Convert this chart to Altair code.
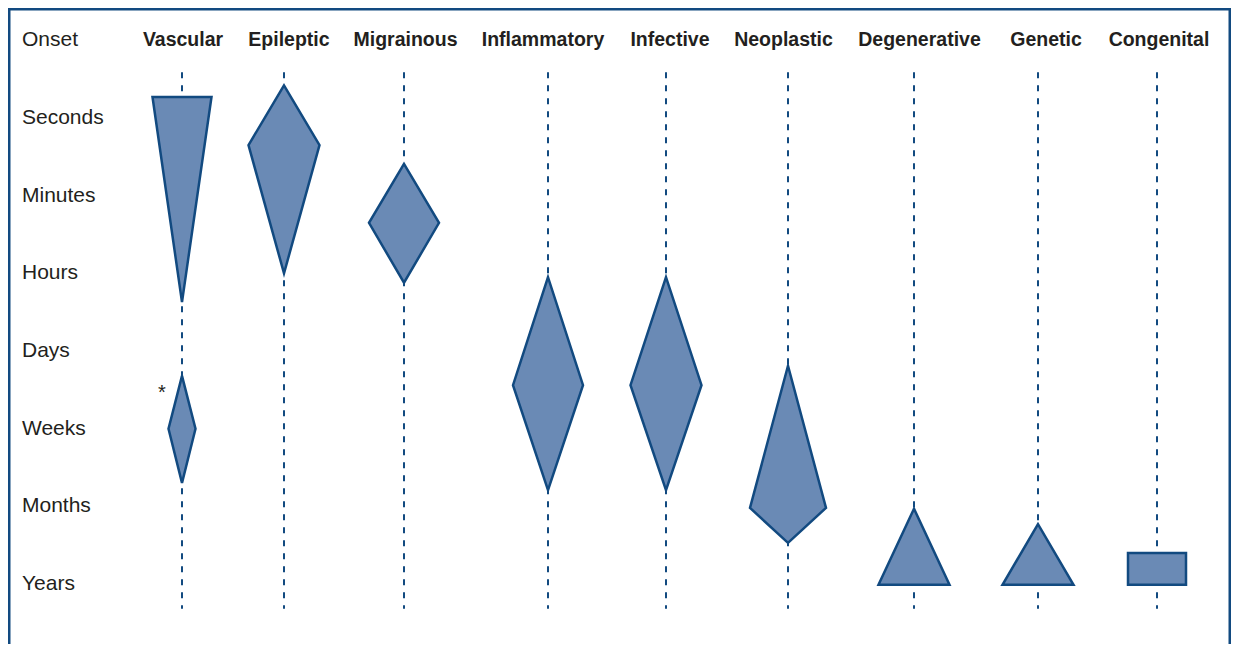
import altair as alt
import pandas as pd

# ---- data ----
categories = ["Vascular", "Epileptic", "Migrainous", "Inflammatory", "Infective",
              "Neoplastic", "Degenerative", "Genetic", "Congenital"]
column_x = [182, 284, 404, 548, 666, 788, 914, 1038, 1157]
onset_levels = ["Seconds", "Minutes", "Hours", "Days", "Weeks", "Months", "Years"]
header_label = "Onset"

# each shape: category, onset levels of its vertices (0 = Seconds ... 6 = Years), half widths
shape_category = ["Vascular", "Vascular", "Epileptic", "Migrainous", "Inflammatory",
                  "Infective", "Neoplastic", "Degenerative", "Genetic", "Congenital"]
shape_levels = [
    [-0.27, 2.37],
    [3.32, 4.00, 4.70],
    [-0.42, 0.35, 2.00],
    [0.59, 1.35, 2.12],
    [2.05, 3.44, 4.79],
    [2.05, 3.44, 4.79],
    [3.19, 5.02, 5.47],
    [5.03, 6.01],
    [5.23, 6.01],
    [5.60, 6.01],
]
shape_half_widths = [
    [29.5, 0],
    [0, 13.5, 0],
    [0, 35.5, 0],
    [0, 35, 0],
    [0, 35, 0],
    [0, 35.5, 0],
    [0, 38, 0],
    [0, 35.5],
    [0, 35.5],
    [29, 29],
]
note_category = "Vascular"
note_text = "*"
note_level = 3.54

guide_top, guide_bottom = -0.59, 6.32

# ---- layout (header labels are set with even gaps, not exactly over the columns) ----
header_x = [183, 289, 405.5, 543, 670, 783.5, 919.5, 1046, 1159]

# ---- tables ----
cx = dict(zip(categories, column_x))
rows = []
for i, (cat, lv, hw) in enumerate(zip(shape_category, shape_levels, shape_half_widths)):
    for j, (l, h) in enumerate(zip(lv, hw)):
        rows.append({"shape": f"s{i}", "level": l,
                     "xl": cx[cat] - h, "xr": cx[cat] + h})
shapes_df = pd.DataFrame(rows)

guides_df = pd.DataFrame({"category": categories, "x": column_x,
                          "top": guide_top, "bottom": guide_bottom})
headers_df = pd.DataFrame({"category": categories, "x": header_x, "level": -1})
rowlab_df = pd.DataFrame({"label": [header_label] + onset_levels,
                          "level": list(range(-1, len(onset_levels)))})
note_df = pd.DataFrame({"t": [note_text], "x": [cx[note_category] - 20], "level": [note_level]})

# ---- style ----
STROKE = "#124a80"
FILL = "#6a8ab5"
TEXT = "#231f20"
FONT = "Liberation Sans"
W, H = 1223, 636

xs = alt.Scale(domain=[8, 8 + W], nice=False, zero=False)
ys = alt.Scale(domain=[-1.4163, (8 + H - 118) / 77.67], reverse=True, nice=False, zero=False)

guides = alt.Chart(guides_df).mark_rule(color=STROKE, strokeWidth=2, strokeDash=[6, 7]).encode(
    x=alt.X("x:Q", scale=xs, axis=None),
    y=alt.Y("top:Q", scale=ys, axis=None),
    y2="bottom:Q",
)

shapes = alt.Chart(shapes_df).mark_area(
    orient="horizontal", fill=FILL, fillOpacity=1, stroke=STROKE, strokeWidth=2.5,
    strokeJoin="miter", interpolate="linear"
).encode(
    y=alt.Y("level:Q", scale=ys, axis=None),
    x=alt.X("xl:Q", scale=xs, axis=None, stack=None),
    x2="xr:Q",
    detail="shape:N",
)

headers = alt.Chart(headers_df).mark_text(
    font=FONT, fontSize=19.5, fontWeight="bold", color=TEXT, align="center", baseline="middle"
).encode(
    x=alt.X("x:Q", scale=xs, axis=None),
    y=alt.Y("level:Q", scale=ys, axis=None),
    text="category:N",
)

rowlabels = alt.Chart(rowlab_df).mark_text(
    font=FONT, fontSize=21, color=TEXT, align="left", baseline="middle"
).encode(
    x=alt.value(22 - 8),
    y=alt.Y("level:Q", scale=ys, axis=None),
    text="label:N",
)

note = alt.Chart(note_df).mark_text(
    font=FONT, fontSize=20, color=TEXT, align="center", baseline="middle"
).encode(
    x=alt.X("x:Q", scale=xs, axis=None),
    y=alt.Y("level:Q", scale=ys, axis=None),
    text="t:N",
)

frame_df = pd.DataFrame({"k": [0]})
frame_left = alt.Chart(frame_df).mark_rule(color=STROKE, strokeWidth=2.5).encode(
    x=alt.value(1.25), y=alt.value(0), y2=alt.value(H))
frame_right = alt.Chart(frame_df).mark_rule(color=STROKE, strokeWidth=2.5).encode(
    x=alt.value(W - 1.25), y=alt.value(0), y2=alt.value(H))
frame_top = alt.Chart(frame_df).mark_rule(color=STROKE, strokeWidth=2.5).encode(
    x=alt.value(0), x2=alt.value(W), y=alt.value(1.25))

chart = alt.layer(
    guides, shapes, headers, rowlabels, note, frame_left, frame_right, frame_top
).properties(
    width=W, height=H, padding=0, autosize="none", background="white"
).configure_view(stroke=None)

chart.save("out.html", embed_options={"renderer": "svg", "actions": False})
